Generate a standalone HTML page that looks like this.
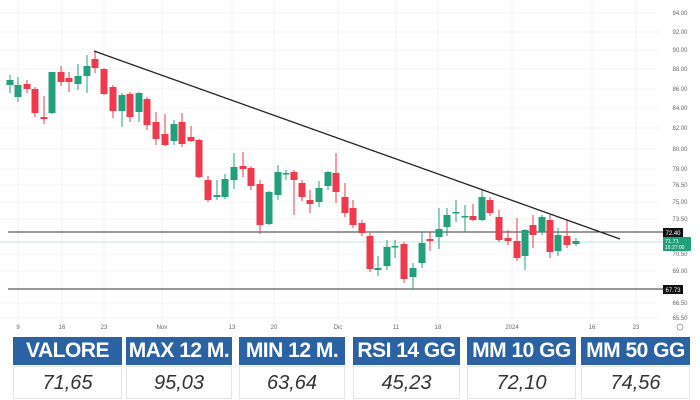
<!DOCTYPE html>
<html><head><meta charset="utf-8"><style>
body{margin:0;width:700px;height:400px;background:#fff;overflow:hidden;font-family:"Liberation Sans",sans-serif}
svg{position:absolute;left:0;top:0}
.tb{position:absolute;top:337px;height:28px;background:#2a62a4;color:#fff;font-weight:bold;font-size:21px;text-align:center;line-height:28px;letter-spacing:-0.5px}
.vl{position:absolute;top:366px;height:33px;background:#fff;border:1px solid #e4e4e4;box-sizing:border-box;color:#333;font-style:italic;font-size:20px;text-align:center;line-height:33px}
</style></head><body>
<svg id="s" width="700" height="400" xmlns="http://www.w3.org/2000/svg"></svg>
<div class="tb" style="left:13px;width:109px">VALORE</div>
<div class="tb" style="left:126px;width:106px">MAX 12 M.</div>
<div class="tb" style="left:239px;width:106px">MIN 12 M.</div>
<div class="tb" style="left:353px;width:107px">RSI 14 GG</div>
<div class="tb" style="left:467px;width:109px">MM 10 GG</div>
<div class="tb" style="left:581px;width:109px">MM 50 GG</div>
<div class="vl" style="left:13px;width:109px">71,65</div>
<div class="vl" style="left:126px;width:106px">95,03</div>
<div class="vl" style="left:239px;width:106px">63,64</div>
<div class="vl" style="left:353px;width:107px">45,23</div>
<div class="vl" style="left:467px;width:109px">72,10</div>
<div class="vl" style="left:581px;width:109px">74,56</div>
<script>
var s=document.getElementById('s'),h='';
var G='#22a07c',R='#ee3a4c';
// grid
[18,62,104,162,232,274,338,396,438,512,592,636].forEach(function(x){h+='<line x1="'+x+'" y1="0" x2="'+x+'" y2="320" stroke="#f2f2f2"/>';});
var yl=[[13,'94.00'],[32,'92.00'],[50,'90.00'],[69,'88.00'],[89,'86.00'],[108,'84.00'],[128,'82.00'],[149,'80.00'],[169,'78.00'],[185,'76.50'],[202,'75.00'],[219,'73.50'],[254,'70.50'],[271,'69.00'],[303,'66.50'],[318,'65.50']];
yl.forEach(function(a){h+='<line x1="0" y1="'+a[0]+'" x2="660" y2="'+a[0]+'" stroke="#f4f4f4"/><text x="680" y="'+(a[0]+2)+'" font-size="6" fill="#666" text-anchor="middle">'+a[1]+'</text>';});
var c=[[10,1,80,85,75,93],[18,1,85,97,77,102],[27,0,84,89,80,93],[35,0,89,113,87,117],[44,0,117,119,96,124],[52,1,72,113,72,114],[61,0,72,82,66,86],[69,0,78,82,72,92],[78,1,76,84,64,90],[87,1,66,76,55,93],[95,0,59,68,52,73],[104,0,69,94,68,95],[113,0,87,111,85,118],[122,1,95,111,93,127],[130,0,94,117,92,122],[139,1,93,112,92,122],[147,0,99,125,97,130],[156,0,122,139,112,145],[165,0,134,145,114,146],[174,1,124,141,120,145],[182,0,122,144,113,147],[191,0,137,141,126,142],[199,0,140,177,139,178],[208,0,180,200,176,202],[217,1,195,197,180,200],[225,1,179,197,174,199],[234,1,167,180,153,189],[243,0,166,169,152,177],[251,0,168,186,166,190],[260,0,184,225,180,234],[269,1,192,224,191,225],[278,1,172,195,165,200],[286,1,173,174,170,180],[294,0,172,180,170,215],[302,0,183,197,180,201],[310,0,200,204,190,213],[319,1,188,202,181,207],[328,1,172,186,171,190],[336,0,173,192,153,203],[345,0,197,213,183,217],[353,0,208,225,200,228],[362,0,223,233,220,236],[370,0,236,269,233,272],[378,1,268,270,256,276],[387,1,247,266,240,270],[395,1,246,247,240,258],[404,0,244,279,242,283],[413,1,268,277,263,289],[422,1,243,263,232,268],[430,0,239,241,232,251],[439,1,229,237,208,249],[447,1,215,227,208,236],[456,1,212,213,200,222],[465,1,216,217,205,232],[473,0,216,220,204,221],[482,1,197,220,190,221],[490,0,200,213,197,216],[499,0,217,240,210,242],[508,0,238,241,230,245],[517,0,241,258,218,261],[525,1,230,256,229,270],[533,0,225,235,215,248],[542,1,217,232,215,235],[550,0,220,252,215,258],[558,1,235,251,228,256],[567,0,236,245,220,248],[576,1,241,244,238,246]];
// levels
h+='<line x1="0" y1="242" x2="663" y2="242" stroke="#bfe6da" stroke-width="1"/>';
h+='<line x1="8" y1="232" x2="663" y2="232" stroke="#333" stroke-width="1"/>';
h+='<line x1="8" y1="289" x2="663" y2="289" stroke="#333" stroke-width="1"/>';
c.forEach(function(k){var col=k[1]?G:R;h+='<line x1="'+k[0]+'" y1="'+k[4]+'" x2="'+k[0]+'" y2="'+k[5]+'" stroke="'+col+'" stroke-width="1"/><rect x="'+(k[0]-3.5)+'" y="'+k[2]+'" width="7" height="'+Math.max(1.5,k[3]-k[2])+'" fill="'+col+'"/>';});
h+='<line x1="94" y1="51" x2="620" y2="239" stroke="#222" stroke-width="1.3"/>';
h+='<rect x="663" y="228" width="20" height="9" fill="#111"/><text x="673" y="235" font-size="6" fill="#fff" text-anchor="middle">72.40</text>';
h+='<rect x="663" y="237" width="28" height="14" fill="#22a07c"/><text x="665" y="243" font-size="5.5" fill="#fff">71.71</text><text x="665" y="249" font-size="5" fill="#fff">16:27:00</text>';
h+='<rect x="663" y="285" width="20" height="9" fill="#111"/><text x="673" y="292" font-size="6" fill="#fff" text-anchor="middle">67.73</text>';
[[18,'9'],[62,'16'],[104,'23'],[162,'Nov'],[232,'13'],[274,'20'],[338,'Dic'],[396,'11'],[438,'18'],[512,'2024'],[592,'16'],[636,'23']].forEach(function(a){h+='<text x="'+a[0]+'" y="329" font-size="6" fill="#666" text-anchor="middle">'+a[1]+'</text>';});
h+='<circle cx="680" cy="327" r="3" fill="none" stroke="#888" stroke-width="0.8"/>';
s.innerHTML=h;
</script>
</body></html>
